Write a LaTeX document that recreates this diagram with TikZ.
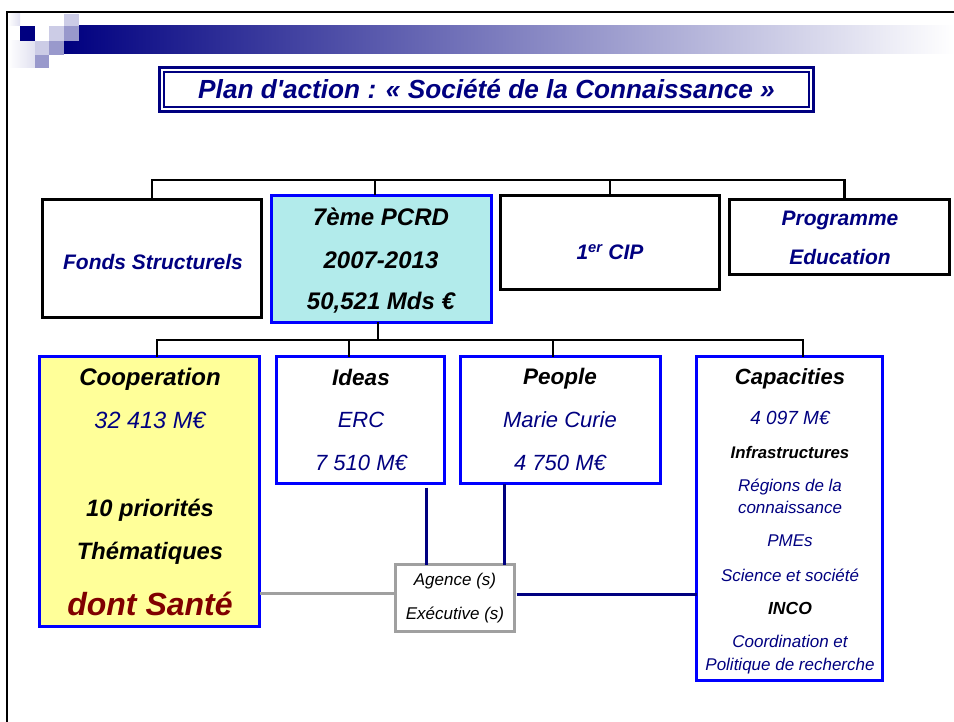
\documentclass[tikz,border=0pt]{standalone}
\usepackage{fontspec}
\setmainfont{Liberation Sans}
\usetikzlibrary{positioning}
\definecolor{navy}{RGB}{0,0,128}
\definecolor{boxblue}{RGB}{0,0,255}
\definecolor{pcrdfill}{RGB}{178,235,235}
\definecolor{coopfill}{RGB}{255,255,153}
\definecolor{santered}{RGB}{128,0,0}
\definecolor{agencegrey}{RGB}{160,160,160}
\definecolor{lilac}{RGB}{204,204,230}
\definecolor{mauve}{RGB}{153,153,204}
\definecolor{haze}{RGB}{170,170,196}
\tikzset{blackbox/.style = {draw = black, line width = 3pt, inner sep = 0, outer sep = 0, anchor = north west}}
\tikzset{bluebox/.style = {draw = boxblue, line width = 3pt, inner sep = 0, outer sep = 0, anchor = north west}}
\tikzset{greybox/.style = {draw = agencegrey, line width = 3pt, inner sep = 0, outer sep = 0, anchor = north west}}
\tikzset{link/.style = {line width = 2.5pt}}
\tikzset{navylink/.style = {draw = navy, line width = 3pt}}
\tikzset{greylink/.style = {draw = agencegrey, line width = 3pt}}
\tikzset{headtext/.style = {font = \fontsize{#1}{#1}\selectfont\bfseries\itshape}}
\tikzset{valtext/.style = {text = navy, font = \fontsize{#1}{#1}\selectfont\itshape}}

\begin{document}
\begin{tikzpicture}[x = 1pt, y = -1pt]
    \useasboundingbox (0, 0) rectangle (954, 722);

    % slide frame and banner
    \draw [line width = 2pt] (7, 722) -- (7, 12) -- (954, 12);
    \shade [left color = navy, middle color = haze, right color = white] (64, 26) rectangle (954, 54);
    \shade [left color = white, right color = lilac!60] (8, 14) rectangle (20, 26);
    \shade [left color = white, right color = lilac!60] (8, 41) rectangle (35, 68);
    \fill [navy] (20, 26) rectangle (35, 41);
    \fill [lilac] (49, 26) rectangle (64, 41);
    \fill [lilac] (64, 14) rectangle (79, 26);
    \fill [mauve] (64, 26) rectangle (79, 41);
    \fill [lilac] (35, 41) rectangle (49, 55);
    \fill [mauve] (49, 41) rectangle (64, 55);
    \fill [mauve] (35, 55) rectangle (49, 68);

    \node [draw = navy, line width = 3pt, outer sep = 0, minimum width = 654pt, minimum height = 44pt, text = navy, font = \fontsize{26.2}{26.2}\selectfont\bfseries\itshape] (title) at (486.5, 89.5) {Plan d\textquotesingle action : « Société de la Connaissance »};
    \draw [navy, line width = 1.5pt] ([shift = {(4.5pt, -4.5pt)}]title.north west) rectangle ([shift = {(-4.5pt, 4.5pt)}]title.south east);

    % first level
    \node [blackbox, minimum width = 219pt, minimum height = 118pt] (fonds) at (42.5, 199.5) {};
    \node [bluebox, fill = pcrdfill, minimum width = 220pt, minimum height = 127pt] (pcrd) at (271.5, 195.5) {};
    \node [blackbox, minimum width = 219pt, minimum height = 94pt] (cip) at (500.5, 195.5) {};
    \node [blackbox, minimum width = 220pt, minimum height = 75pt] (edu) at (729.5, 199.5) {};

    \node [headtext = 21, text = navy] (fondsT) at (153, 262) {Fonds Structurels};
    \node [headtext = 24] (pcrdA) at (381, 217) {7ème PCRD};
    \node [headtext = 24] (pcrdB) at (381, 260) {2007-2013};
    \node [headtext = 24] (pcrdC) at (381, 303) {50,521 Mds €};
    \node [headtext = 21, text = navy] (cipT) at (610, 252) {1\textsuperscript{er} CIP};
    \node [headtext = 21, text = navy] (eduA) at (840, 220) {Programme};
    \node [headtext = 21, text = navy] (eduB) at (840, 257) {Education};

    \coordinate (bus1) at (375, 180);
    \draw [link] (fonds.north) |- (bus1) -| ([xshift = 5pt]edu.north);
    \draw [link] (pcrd.north -| bus1) -- (bus1);
    \draw [link] (cip.north) -- (cip.north |- bus1);

    % second level
    \node [bluebox, fill = coopfill, minimum width = 220pt, minimum height = 270pt] (coop) at (39.5, 356.5) {};
    \node [bluebox, minimum width = 168pt, minimum height = 127pt] (ideas) at (276.5, 356.5) {};
    \node [bluebox, minimum width = 200pt, minimum height = 127pt] (people) at (460.5, 356.5) {};
    \node [bluebox, minimum width = 186pt, minimum height = 324pt] (capa) at (696.5, 356.5) {};
    \node [greybox, minimum width = 119pt, minimum height = 67pt, align = center, font = \fontsize{17}{34}\selectfont\itshape] (agence) at (395.5, 564.5) {Agence (s)\\Exécutive (s)};

    \node [headtext = 24] (coopA) at (150, 379) {Cooperation};
    \node [valtext = 23.5] (coopB) at (150, 420) {32 413 M€};
    \node [headtext = 23.7] (coopC) at (150, 510) {10 priorités};
    \node [headtext = 23.7] (coopD) at (150, 553) {Thématiques};
    \node [headtext = 32] (coopE) at (150, 604) {\color{santered}dont Santé};

    \node [headtext = 22.5] (ideasA) at (361, 377) {Ideas};
    \node [valtext = 22] (ideasB) at (361, 420) {ERC};
    \node [valtext = 22] (ideasC) at (361, 463) {7 510 M€};

    \node [headtext = 22.5] (peopleA) at (560, 379) {People};
    \node [valtext = 22] (peopleB) at (560, 420) {Marie Curie};
    \node [valtext = 22] (peopleC) at (560, 463) {4 750 M€};

    \node [headtext = 22] (capaA) at (790, 379) {Capacities};
    \node [valtext = 19] (capaB) at (790, 418) {4 097 M€};
    \node [headtext = 16.8] (capaC) at (790, 452) {Infrastructures};
    \node [valtext = 17, align = center, font = \fontsize{17}{22}\selectfont\itshape] (capaD) at (790, 496) {Régions de la\\connaissance};
    \node [valtext = 17] (capaE) at (790, 541) {PMEs};
    \node [valtext = 17] (capaF) at (790, 575) {Science et société};
    \node [headtext = 17.5] (capaG) at (790, 608) {INCO};
    \node [valtext = 17, align = center, font = \fontsize{17}{23}\selectfont\itshape] (capaH) at (790, 655) {Coordination et\\Politique de recherche};

    \coordinate (bus2) at (378, 340);
    \draw [link] (pcrd.south -| bus2) -- (bus2);
    \draw [link] ([xshift = 7.5pt]coop.north) |- (bus2) -| ([xshift = 13.5pt]capa.north);
    \draw [link] ([xshift = -11.5pt]ideas.north) -- ([xshift = -11.5pt]ideas.north |- bus2);
    \draw [link] ([xshift = -7.5pt]people.north) -- ([xshift = -7.5pt]people.north |- bus2);

    % executive agency links
    \draw [navylink] ([shift = {(65.5pt, -4pt)}]ideas.south) -- ([xshift = 65.5pt]ideas.south |- agence.north);
    \draw [navylink] ([xshift = -56.5pt]people.south) -- ([xshift = -56.5pt]people.south |- agence.north);
    \draw [navylink] ([shift = {(2pt, 4pt)}]agence.east) -- ([yshift = 4pt]agence.east -| capa.west);
    \draw [greylink] ([yshift = 5pt]agence.west -| coop.east) -- ([yshift = 5pt]agence.west);
\end{tikzpicture}
\end{document}
